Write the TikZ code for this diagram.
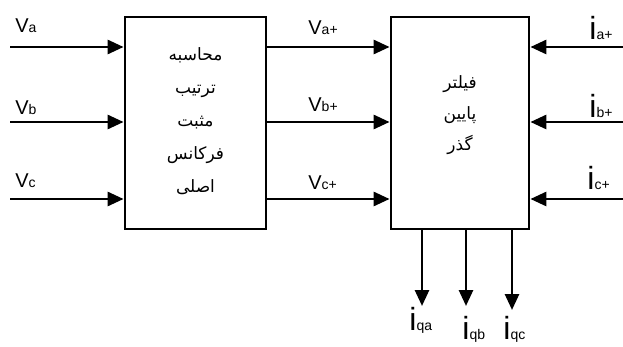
\documentclass[tikz,border=0pt]{standalone}
\usepackage{fontspec}
\setmainfont{Liberation Sans}
\newfontfamily\arabicfont[Script=Arabic]{DejaVu Sans}
\TeXXeTstate=1
\usetikzlibrary{arrows.meta}
\newcommand{\bigV}[2]{{\fontsize{20}{20}\selectfont V}{\fontsize{14}{14}\selectfont #2}}
\newcommand{\bigI}[1]{{\fontsize{32}{32}\selectfont i}{\fontsize{14}{14}\selectfont #1}}
\begin{document}
\begin{tikzpicture}[x=1pt,y=-1pt,
  line width=2.8pt,
  arr/.style={-{Triangle[length=16pt,width=14pt]}},
  blk/.style={draw, line width=2.8pt, inner sep=0pt, minimum height=212pt},
  lbl/.style={anchor=base west, inner sep=0pt},
  ara/.style={font=\arabicfont\fontsize{17}{33}\selectfont, align=center, inner sep=0pt}]
\useasboundingbox (0,0) rectangle (623,347);
% blocks
\node[blk, minimum width=141pt] (b1) at (195.5,123) {};
\node[blk, minimum width=138pt] (b2) at (460,123) {};
\node[ara] (t1) at (195.5,121) {\beginR محاسبه\endR\\\beginR ترتیب\endR\\\beginR مثبت\endR\\\beginR فرکانس\endR\\\beginR اصلی\endR};
\node[ara, font=\arabicfont\fontsize{17}{31}\selectfont] (t2) at (460,115) {\beginR فیلتر\endR\\\beginR پایین\endR\\\beginR گذر\endR};
% input coordinates
\coordinate (in1) at (10,47);
\coordinate (in2) at (10,122);
\coordinate (in3) at (10,199);
\coordinate (r1) at (623,47);
\coordinate (r2) at (623,122);
\coordinate (r3) at (623,199);
\coordinate (o1) at (422,306);
\coordinate (o2) at (466,306);
\coordinate (o3) at (512,310);
% arrows
\foreach \k in {1,2,3}{
  \draw[arr] (in\k) -- (in\k -| b1.west);
  \draw[arr] (in\k -| b1.east) -- (in\k -| b2.west);
  \draw[arr] (r\k) -- (r\k -| b2.east);
  \draw[arr] (o\k |- b2.south) -- (o\k);
}
% labels
\node[lbl] (la) at (14,33) {\bigV{}{a}};
\node[lbl] (lb) at (14,115) {\bigV{}{b}};
\node[lbl] (lc) at (14,188) {\bigV{}{c}};
\node[lbl] (lap) at (307,35) {\bigV{}{a+}};
\node[lbl] (lbp) at (307,112) {\bigV{}{b+}};
\node[lbl] (lcp) at (307,190) {\bigV{}{c+}};
\node[lbl] (iap) at (588,40) {\bigI{a+}};
\node[lbl] (ibp) at (588,118) {\bigI{b+}};
\node[lbl] (icp) at (586,190) {\bigI{c+}};
\node[lbl] (iqa) at (408,330) {\bigI{qa}};
\node[lbl] (iqb) at (461,339) {\bigI{qb}};
\node[lbl] (iqc) at (502,339) {\bigI{qc}};
\end{tikzpicture}
\end{document}
